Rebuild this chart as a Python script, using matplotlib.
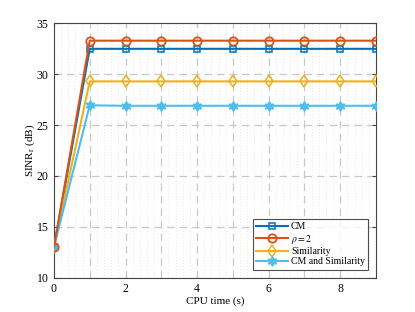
import numpy as np
import matplotlib.pyplot as plt
from matplotlib.ticker import MultipleLocator

plt.rcParams['font.family'] = ['Liberation Serif', 'DejaVu Serif']
plt.rcParams['mathtext.fontset'] = 'stix'

cpu_time = [0, 1, 2, 3, 4, 5, 6, 7, 8, 9]
sinr_cm = [13.0, 32.5, 32.5, 32.5, 32.5, 32.5, 32.5, 32.5, 32.5, 32.5]
sinr_rho2 = [13.0, 33.3, 33.3, 33.3, 33.3, 33.3, 33.3, 33.3, 33.3, 33.3]
sinr_sim = [13.0, 29.3, 29.3, 29.3, 29.3, 29.3, 29.3, 29.3, 29.3, 29.3]
sinr_cm_sim = [13.0, 26.95, 26.9, 26.9, 26.9, 26.9, 26.9, 26.9, 26.9, 26.9]
labels = ['CM', r'$\rho = 2$', 'Similarity', 'CM and Similarity']

fig = plt.figure(figsize=(4.15, 3.12), dpi=100)
ax = fig.add_axes([0.130, 0.110, 0.776, 0.815])

ax.plot(cpu_time, sinr_cm, color='#0072BD', marker='s', mfc='none', ms=4.5, lw=1.5, mew=1.1, label=labels[0], zorder=3)
ax.plot(cpu_time, sinr_rho2, color='#D95319', marker='o', mfc='none', ms=6, lw=1.5, mew=1.3, label=labels[1], zorder=4)
ax.plot(cpu_time, sinr_sim, color='#EDB120', marker='d', mfc='none', ms=6, lw=1.5, mew=1.1, label=labels[2], zorder=3)
ax.plot(cpu_time, sinr_cm_sim, color='#4DBEEE', marker=(6, 1, 0), ms=7, lw=1.5, label=labels[3], zorder=3)

ax.set_xlim(0, 9)
ax.set_ylim(10, 35)
ax.set_xticks([0, 2, 4, 6, 8])
ax.xaxis.set_minor_locator(MultipleLocator(0.2))
ax.set_yticks([10, 15, 20, 25, 30, 35])

# major dashed grid at every integer on x
for xv in range(1, 9):
    ax.axvline(xv, color='#c8c8c8', ls=(0, (6, 4)), lw=0.9, zorder=1)
ax.grid(True, axis='y', which='major', color='#c8c8c8', ls=(0, (6, 4)), lw=0.9)
ax.grid(True, axis='x', which='minor', color='#e0e0e0', ls=(0, (1, 2.5)), lw=0.6)
ax.set_axisbelow(True)

ax.tick_params(direction='in', which='both', labelsize=8.5, top=True, right=True, length=3, color='#444444', pad=4)
ax.tick_params(which='minor', length=0)
for s in ax.spines.values():
    s.set_color('#444444')
    s.set_linewidth(0.8)

ax.set_xlabel('CPU time (s)', fontsize=8, labelpad=1)
ax.set_ylabel(r'SINR$_{\mathrm{r}}$ (dB)', fontsize=8, labelpad=0)

leg = ax.legend(loc='lower right', fontsize=7, frameon=True, fancybox=False,
                edgecolor='#222222', borderpad=0.35, labelspacing=0.15,
                handlelength=3.3, handletextpad=0.3, borderaxespad=0.8)
leg.get_frame().set_linewidth(0.8)

fig.savefig('out.png', dpi=100)
